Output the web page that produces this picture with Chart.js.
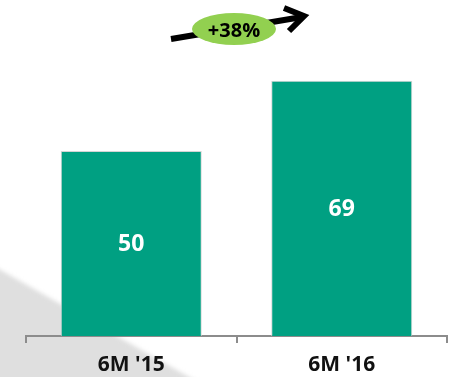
<!DOCTYPE html>
<html>
<head>
<meta charset="utf-8">
<script src="https://cdn.jsdelivr.net/npm/chart.js@4"></script>
<style>
  html, body { margin: 0; padding: 0; background: #fff; }
  #wrap { width: 450px; height: 377px; }
</style>
</head>
<body>
<div id="wrap"><canvas id="myChart" width="450" height="377"></canvas></div>
<script>
// dati del grafico
const categorie = ["6M '15", "6M '16"];
const valori = [50, 69];
const crescita = "+38%";

const verde = '#00a082';

// sfondo grigio in basso a sinistra
const sfondo = {
  id: 'sfondo',
  beforeDraw(chart) {
    const c = chart.ctx;
    c.save();
    c.filter = 'blur(2px)';
    c.fillStyle = '#dfdfdf';
    c.beginPath();
    c.moveTo(-10, 264);
    c.lineTo(203, 385);
    c.lineTo(-10, 385);
    c.closePath();
    c.fill();
    c.restore();
  }
};

// numeri dentro le barre + freccia con percentuale
const etichette = {
  id: 'etichette',
  afterDatasetsDraw(chart) {
    const c = chart.ctx;
    const meta = chart.getDatasetMeta(0);
    c.save();
    c.fillStyle = '#fff';
    c.font = 'bold 23px "Open Sans"';
    c.textAlign = 'center';
    c.textBaseline = 'middle';
    meta.data.forEach((bar, i) => {
      c.fillText(valori[i], bar.x, (bar.y + bar.base) / 2 + 1);
    });

    // freccia
    c.strokeStyle = '#000';
    c.lineWidth = 6;
    c.lineCap = 'butt';
    c.beginPath();
    c.moveTo(171, 39);
    c.lineTo(302, 17);
    c.stroke();
    c.lineJoin = 'miter';
    c.beginPath();
    c.moveTo(284, 8);
    c.lineTo(304, 16);
    c.lineTo(289, 31);
    c.stroke();

    // ovale
    c.fillStyle = '#92d050';
    c.beginPath();
    c.ellipse(234, 29, 42, 16, 0, 0, Math.PI * 2);
    c.fill();
    c.fillStyle = '#000';
    c.font = 'bold 20px "Open Sans"';
    c.fillText(crescita, 234, 31);
    c.restore();
  }
};

const ctx = document.getElementById('myChart');

new Chart(ctx, {
  type: 'bar',
  data: {
    labels: categorie,
    datasets: [{
      data: valori,
      backgroundColor: verde,
      borderColor: '#d4d4d4',
      borderWidth: 1,
      barPercentage: 0.67,
      categoryPercentage: 1
    }]
  },
  options: {
    responsive: false,
    animation: false,
    layout: { padding: { top: 40, left: 26, right: 3, bottom: 0 } },
    plugins: {
      legend: { display: false },
      tooltip: { enabled: false }
    },
    scales: {
      y: { display: false, min: 0, max: 80 },
      x: {
        afterFit(scale) { scale.height = 41; },
        border: { display: true, color: '#8c8c8c', width: 2 },
        grid: { drawOnChartArea: false, color: '#8c8c8c', lineWidth: 2, tickLength: 7 },
        ticks: {
          color: '#111',
          padding: 9,
          font: { family: '"Open Sans"', weight: 'bold', size: 21 }
        }
      }
    }
  },
  plugins: [sfondo, etichette]
});
</script>
</body>
</html>
